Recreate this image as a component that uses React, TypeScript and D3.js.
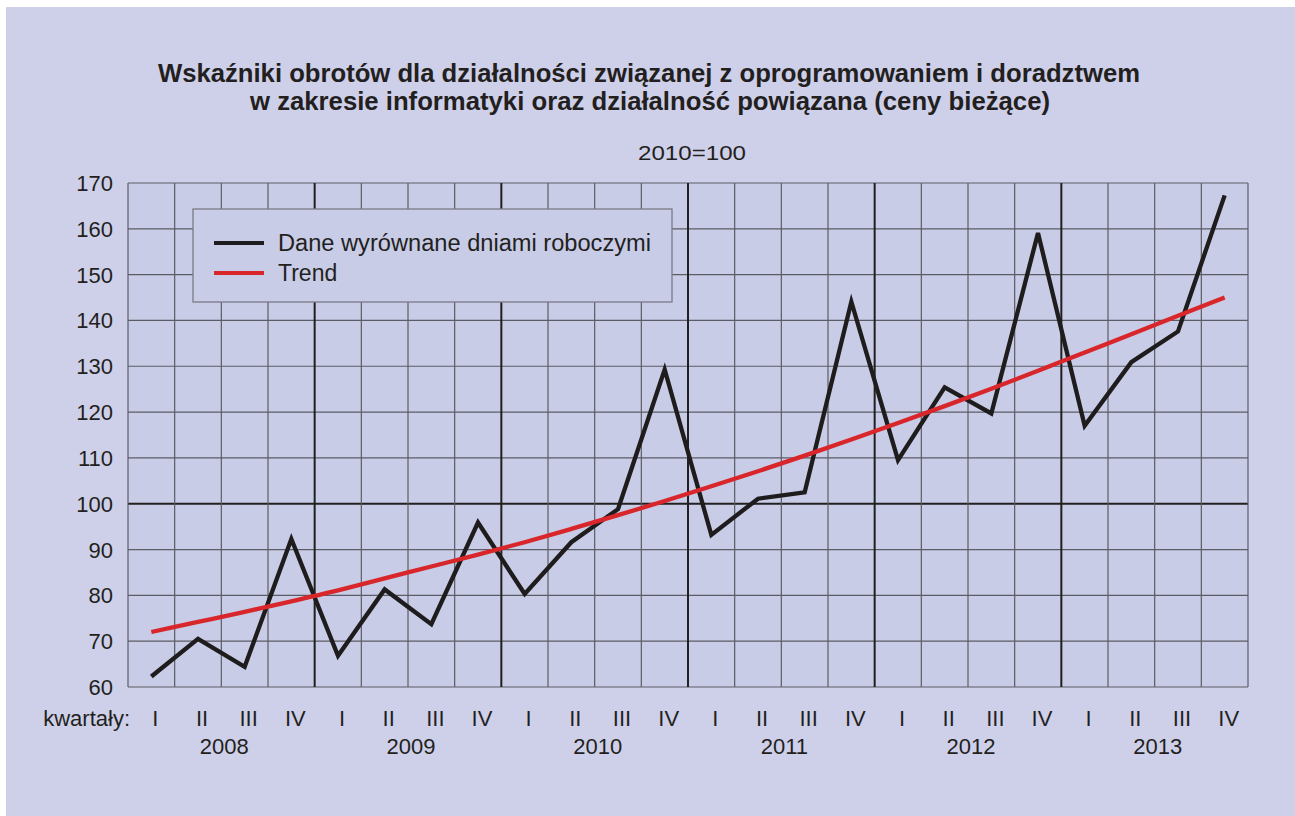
import * as d3 from "d3";

const WIDTH = 1295;
const HEIGHT = 816;
const MARGIN = { left: 128, right: 47, top: 183, bottom: 129 };

const years = ["2008", "2009", "2010", "2011", "2012", "2013"];
const quarters = ["I", "II", "III", "IV"];

// dane wyrównane dniami roboczymi, kolejne kwartały 2008 I – 2013 IV
const adjusted = [
  62.3, 70.5, 64.4, 92.3,
  66.8, 81.3, 73.7, 95.9,
  80.3, 91.6, 98.8, 129.3,
  93.2, 101.1, 102.5, 144.1,
  109.5, 125.4, 119.7, 159.1,
  117.0, 130.9, 137.6, 167.3,
];

const trend = [
  72.0, 74.2, 76.4, 78.7,
  81.1, 83.7, 86.3, 88.9,
  91.6, 94.5, 97.5, 100.6,
  103.8, 107.1, 110.5, 114.0,
  117.6, 121.3, 125.1, 129.0,
  133.0, 137.0, 141.0, 145.0,
];

const yTicks = [60, 70, 80, 90, 100, 110, 120, 130, 140, 150, 160, 170];

const FONT = "'Liberation Sans', Arial, Helvetica, sans-serif";
const INK = "#231f20";

export default function App() {
  const innerW = WIDTH - MARGIN.left - MARGIN.right;
  const innerH = HEIGHT - MARGIN.top - MARGIN.bottom;
  const n = adjusted.length;

  const xBand = d3
    .scaleBand<number>()
    .domain(d3.range(n))
    .range([MARGIN.left, MARGIN.left + innerW]);
  const xMid = (i: number) => (xBand(i) ?? 0) + xBand.bandwidth() / 2;

  const y = d3
    .scaleLinear()
    .domain([60, 170])
    .range([MARGIN.top + innerH, MARGIN.top]);

  const line = d3
    .line<number>()
    .x((_, i) => xMid(i))
    .y((v) => y(v));

  const trendLine = d3
    .line<number>()
    .x((_, i) => xMid(i))
    .y((v) => y(v))
    .curve(d3.curveMonotoneX);

  const x0 = MARGIN.left;
  const x1 = MARGIN.left + innerW;
  const yTop = MARGIN.top;
  const yBot = MARGIN.top + innerH;

  return (
    <div style={{ position: "absolute", left: 0, top: 0 }}>
      <svg width={WIDTH} height={HEIGHT} style={{ display: "block" }}>
        <rect x={0} y={0} width={WIDTH} height={HEIGHT} fill="#ffffff" />
        <rect x={6} y={7} width={WIDTH - 6} height={HEIGHT - 7} fill="#ced0ea" />

        {/* Title */}
        <g fontFamily={FONT} fontWeight="bold" fontSize={25} fill={INK} textAnchor="middle">
          <text x={649} y={82} textLength={982} lengthAdjust="spacingAndGlyphs">
            Wskaźniki obrotów dla działalności związanej z oprogramowaniem i doradztwem
          </text>
          <text x={650} y={110} textLength={800} lengthAdjust="spacingAndGlyphs">
            w zakresie informatyki oraz działalność powiązana (ceny bieżące)
          </text>
        </g>
        <text
          x={692}
          y={160}
          fontFamily={FONT}
          fontSize={21}
          fill={INK}
          textAnchor="middle"
          textLength={108}
          lengthAdjust="spacingAndGlyphs"
        >
          2010=100
        </text>

        {/* Plot area */}
        <rect x={x0} y={yTop} width={innerW} height={innerH} fill="#c8cce6" />

        {/* Horizontal grid */}
        {yTicks.map((t) => (
          <line
            key={"h" + t}
            x1={x0}
            x2={x1}
            y1={y(t)}
            y2={y(t)}
            stroke={t === 100 ? INK : "#5c5c66"}
            strokeWidth={t === 100 ? 2 : 1.2}
          />
        ))}

        {/* Vertical grid */}
        {d3.range(n + 1).map((i) => {
          const x = i < n ? xBand(i) ?? 0 : x1;
          const isYear = i % 4 === 0 && i > 0 && i < n;
          return (
            <line
              key={"v" + i}
              x1={x}
              x2={x}
              y1={yTop}
              y2={yBot}
              stroke={isYear ? INK : "#5c5c66"}
              strokeWidth={isYear ? 2 : 1.2}
            />
          );
        })}

        {/* Y tick labels */}
        {yTicks.map((t) => (
          <text
            key={"yl" + t}
            x={113}
            y={y(t) + 8}
            fontFamily={FONT}
            fontSize={22}
            fill={INK}
            textAnchor="end"
          >
            {t}
          </text>
        ))}

        {/* Legend */}
        <rect x={193} y={209} width={479} height={93} fill="#c8cce6" stroke="#7a7a86" strokeWidth={1.3} />
        <line x1={214} x2={264} y1={243} y2={243} stroke="#1e1c1c" strokeWidth={4} />
        <line x1={214} x2={264} y1={273} y2={273} stroke="#d9262b" strokeWidth={4} />
        <text x={278} y={251} fontFamily={FONT} fontSize={23} fill={INK} textLength={373} lengthAdjust="spacingAndGlyphs">
          Dane wyrównane dniami roboczymi
        </text>
        <text x={278} y={281} fontFamily={FONT} fontSize={23} fill={INK}>
          Trend
        </text>

        {/* Series */}
        <path d={line(adjusted) ?? undefined} fill="none" stroke="#1e1c1c" strokeWidth={4.3} strokeLinejoin="miter" />
        <path d={trendLine(trend) ?? undefined} fill="none" stroke="#d9262b" strokeWidth={4.3} />

        {/* X labels */}
        <text x={130} y={726} fontFamily={FONT} fontSize={22} fill={INK} textAnchor="end">
          kwartały:
        </text>
        {d3.range(n).map((i) => (
          <text
            key={"q" + i}
            x={xMid(i) + 4}
            y={726}
            fontFamily={FONT}
            fontSize={22}
            fill={INK}
            textAnchor="middle"
          >
            {quarters[i % 4]}
          </text>
        ))}
        {years.map((yr, k) => (
          <text
            key={yr}
            x={((xBand(k * 4) ?? 0) + (xBand(k * 4 + 3) ?? 0) + xBand.bandwidth()) / 2 + 3}
            y={754}
            fontFamily={FONT}
            fontSize={22}
            fill={INK}
            textAnchor="middle"
          >
            {yr}
          </text>
        ))}
      </svg>
    </div>
  );
}
